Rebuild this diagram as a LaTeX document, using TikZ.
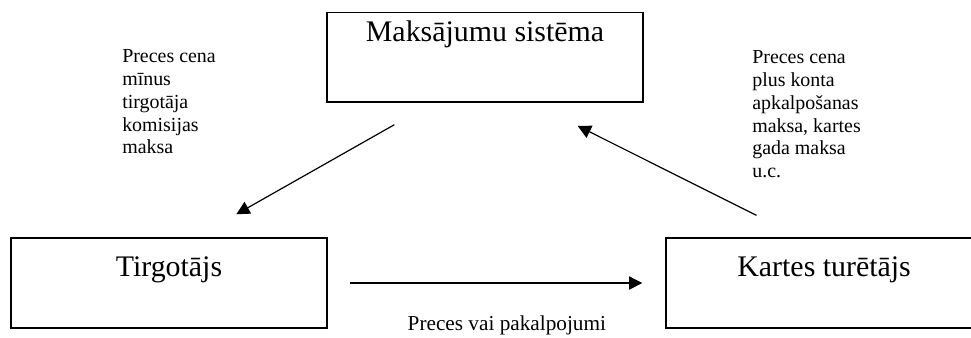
\documentclass[tikz,border=0pt]{standalone}
\usepackage{fontspec}
\setmainfont{Liberation Serif}
\usetikzlibrary{arrows.meta}

\begin{document}
\begin{tikzpicture}[
		box/.style={draw, line width=1.1pt, minimum width=8.36cm, inner sep=0pt, font=\fontsize{22.5}{27}\selectfont},
		note/.style={align=left, inner sep=0pt, anchor=north west, font=\fontsize{15}{17.25}\selectfont},
		arr/.style={-{Triangle[length=10pt,width=10pt]}, line width=0.9pt}]
		\useasboundingbox (0,0) rectangle (25.69,8.917);
		\clip (0,0) rectangle (25.69,8.917);

		\node[box, text height=0.78cm, text depth=1.59cm] (pay) at (12.833,7.402) {Maksājumu sistēma};
		\node[box, text height=1.03cm, text depth=1.35cm] (shop) at (4.471,1.429) {Tirgotājs};
		\node[box, text height=1.03cm, text depth=1.35cm] (holder) at (21.803,1.429) {Kartes turētājs};

		\node[note] (fee) at (3.228,7.62) {Preces cena\\mīnus\\tirgotāja\\komisijas\\maksa};
		\node[note] (extra) at (19.897,7.594) {Preces cena\\plus konta\\apkalpošanas\\maksa, kartes\\gada maksa\\u.c.};
		\node[anchor=base, inner sep=0pt, font=\fontsize{16}{19}\selectfont] (goods) at (13.41,0.185) {Preces vai pakalpojumi};

		\draw[arr] ([shift={(1.8,-0.58)}]pay.south west) -- ([shift={(5.98,0.61)}]shop.north west);
		\draw[arr] ([shift={(2.41,0.58)}]holder.north west) -- ([shift={(-1.75,-0.61)}]pay.south east);
		\draw[arr] ([xshift=0.58cm]shop.east) -- ([xshift=-0.61cm]holder.west);
	\end{tikzpicture}
\end{document}
